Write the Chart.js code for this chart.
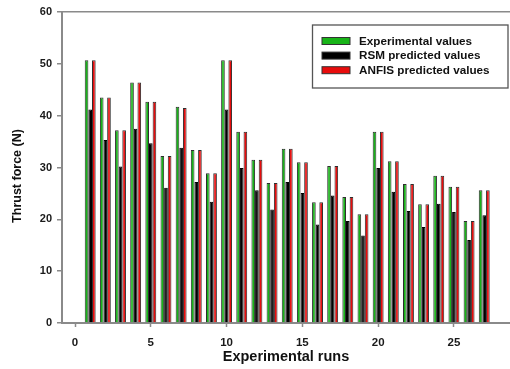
<!DOCTYPE html>
<html>
<head>
<meta charset="utf-8">
<script src="https://cdn.jsdelivr.net/npm/chart.js@4"></script>
<style>
  html, body { margin: 0; padding: 0; background: #fff; overflow: hidden; }
  canvas { display: block; }
</style>
</head>
<body>
<canvas id="c" width="510" height="369"></canvas>
<script>
// ---- Data ----
const runs = [1, 2, 3, 4, 5, 6, 7, 8, 9, 10, 11, 12, 13, 14, 15, 16, 17, 18, 19, 20, 21, 22, 23, 24, 25, 26, 27];
const experimental = [50.7, 43.5, 37.2, 46.4, 42.7, 32.2, 41.7, 33.4, 28.9, 50.7, 36.9, 31.5, 27.0, 33.6, 31.0, 23.3, 30.3, 24.3, 21.0, 36.9, 31.2, 26.8, 22.9, 28.4, 26.3, 19.7, 25.6];
const rsmPredicted = [41.2, 35.3, 30.2, 37.5, 34.7, 26.1, 33.8, 27.2, 23.4, 41.2, 29.9, 25.6, 21.9, 27.2, 25.1, 19.0, 24.6, 19.7, 16.9, 29.9, 25.3, 21.6, 18.5, 23.0, 21.4, 16.0, 20.8];
const anfisPredicted = [50.7, 43.5, 37.2, 46.4, 42.7, 32.2, 41.5, 33.4, 28.9, 50.7, 36.9, 31.5, 27.0, 33.6, 31.0, 23.3, 30.3, 24.3, 21.0, 36.9, 31.2, 26.8, 22.9, 28.4, 26.3, 19.7, 25.6];
const seriesNames = ['Experimental values', 'RSM predicted values', 'ANFIS predicted values'];
const xTickValues = [0, 5, 10, 15, 20, 25];
const yTickValues = [0, 10, 20, 30, 40, 50, 60];
const xTitle = 'Experimental runs';
const yTitle = 'Thrust force (N)';

const FONT = '"Liberation Sans", Arial, sans-serif';
const AXIS_GRAY = '#8a8a8a';

const toPoints = vals => runs.map((r, i) => ({ x: r, y: vals[i] }));

const legendPlugin = {
  id: 'boxLegend',
  afterDraw(chart) {
    const ctx = chart.ctx;
    ctx.save();
    const bx = 312.5, by = 25, bw = 195.5, bh = 63;
    ctx.fillStyle = '#fff';
    ctx.fillRect(bx, by, bw, bh);
    ctx.strokeStyle = '#555';
    ctx.lineWidth = 1.3;
    ctx.strokeRect(bx, by, bw, bh);
    ctx.font = 'bold 11.7px ' + FONT;
    ctx.textBaseline = 'middle';
    chart.data.datasets.forEach((ds, i) => {
      const cy = 41 + i * 14.6;
      ctx.fillStyle = ds.backgroundColor;
      ctx.fillRect(322, cy - 3.5, 28, 7);
      ctx.strokeStyle = '#333';
      ctx.lineWidth = 1;
      ctx.strokeRect(322, cy - 3.5, 28, 7);
      ctx.fillStyle = '#111';
      ctx.fillText(ds.label, 359, cy + 0.5);
    });
    // y axis title
    ctx.translate(18, 176);
    ctx.rotate(-Math.PI / 2);
    ctx.textAlign = 'center';
    ctx.font = 'bold 12.5px ' + FONT;
    ctx.fillStyle = '#111';
    ctx.fillText(yTitle, 0, 0);
    ctx.restore();
  }
};

new Chart(document.getElementById('c'), {
  type: 'bar',
  data: {
    datasets: [
      { label: seriesNames[0], data: toPoints(experimental), backgroundColor: '#18b418', borderColor: '#2e2e2e', borderWidth: 1 },
      { label: seriesNames[1], data: toPoints(rsmPredicted), backgroundColor: '#000000', borderColor: '#000', borderWidth: 1 },
      { label: seriesNames[2], data: toPoints(anfisPredicted), backgroundColor: '#e80c0c', borderColor: '#2e2e2e', borderWidth: 1 }
    ]
  },
  options: {
    responsive: false,
    animation: false,
    categoryPercentage: 0.72,
    barPercentage: 1.0,
    layout: { padding: { top: 12, right: 0, left: 0, bottom: 0 } },
    plugins: {
      legend: { display: false },
      tooltip: { enabled: false },
      title: { display: false }
    },
    scales: {
      x: {
        type: 'linear',
        offset: false,
        min: -0.86,
        max: 28.7,
        afterFit: s => { s.height = 46; },
        afterBuildTicks: s => { s.ticks = xTickValues.map(v => ({ value: v })); },
        grid: { display: true, drawOnChartArea: false, drawTicks: true, tickLength: 4, tickColor: AXIS_GRAY, tickWidth: 1.5, offset: false },
        border: { display: true, color: AXIS_GRAY, width: 2 },
        ticks: { padding: 9, color: '#1a1a1a', font: { family: FONT, size: 11.5, weight: 'bold' }, maxRotation: 0 },
        title: { display: true, text: xTitle, color: '#111', font: { family: FONT, size: 14.5, weight: 'bold' }, padding: { top: 0, bottom: 3 } }
      },
      y: {
        type: 'linear',
        min: 0,
        max: 60,
        afterFit: s => { s.width = 62; },
        afterBuildTicks: s => { s.ticks = yTickValues.map(v => ({ value: v })); },
        grid: {
          drawOnChartArea: true,
          drawTicks: true,
          tickLength: 5,
          tickColor: AXIS_GRAY,
          tickWidth: 1.5,
          lineWidth: 1.5,
          color: c => (c.tick && c.tick.value === 60 ? AXIS_GRAY : 'rgba(0,0,0,0)')
        },
        border: { display: true, color: AXIS_GRAY, width: 2 },
        ticks: { padding: 5, color: '#1a1a1a', font: { family: FONT, size: 11, weight: 'bold' } },
        title: { display: false }
      }
    }
  },
  plugins: [legendPlugin]
});
</script>
</body>
</html>
